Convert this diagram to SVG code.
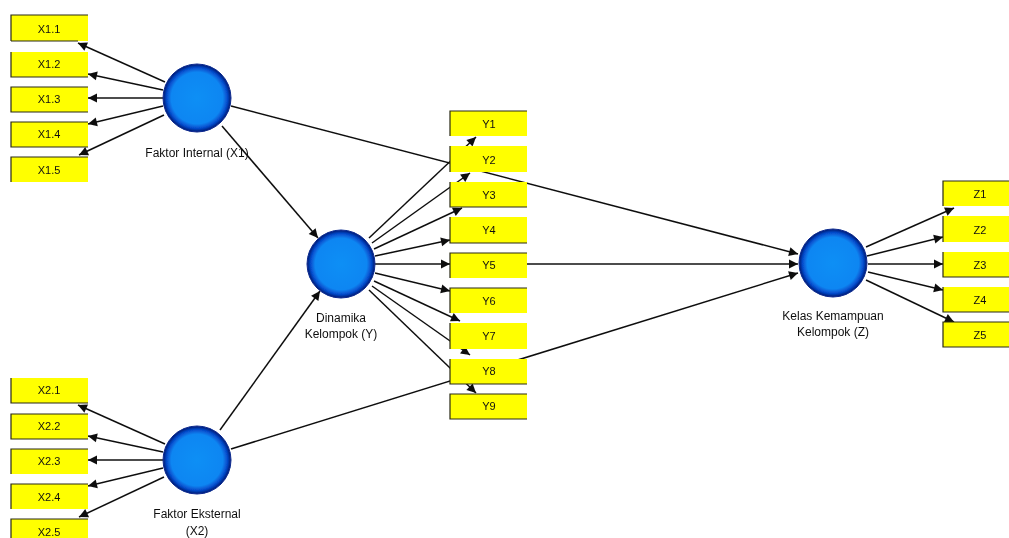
<svg xmlns="http://www.w3.org/2000/svg" width="1009" height="538" viewBox="0 0 1009 538">
<defs>
<radialGradient id="ball" cx="50%" cy="50%" r="50%">
<stop offset="0" stop-color="#0b8ff5"/><stop offset="0.76" stop-color="#0a86f2"/><stop offset="0.9" stop-color="#0648c8"/><stop offset="1" stop-color="#04186e"/>
</radialGradient>
<marker id="arrow" markerUnits="userSpaceOnUse" markerWidth="11" markerHeight="11" refX="10" refY="5.500" orient="auto">
<path d="M1 1L10 5.500L1 10Z" fill="#111"/>
</marker>
<filter id="soft" x="-5%" y="-5%" width="110%" height="110%"><feGaussianBlur stdDeviation="0.5"/></filter>
</defs>
<style>
text{font-family:"Liberation Sans",Arial,sans-serif;font-size:11px;fill:#111;text-anchor:middle}
.l{font-size:12px}
.b{fill:#ffff00;stroke:none}
.e{fill:none;stroke:#2a2a10;stroke-width:1.200}
.c{fill:url(#ball);stroke:#0a2a90;stroke-width:1}
#connectors line{stroke:#111;stroke-width:1.500;marker-end:url(#arrow)}
</style>
<rect width="1009" height="538" fill="#fff"/>
<g filter="url(#soft)">
<g id="connectors">
<line x1="165" y1="82" x2="78" y2="43"/><line x1="163" y1="90" x2="88" y2="74"/><line x1="163" y1="98" x2="88" y2="98"/><line x1="163" y1="106" x2="88" y2="124"/><line x1="164" y1="115" x2="79" y2="155"/>
<line x1="165" y1="444" x2="78" y2="405"/><line x1="163" y1="452" x2="88" y2="436"/><line x1="163" y1="460" x2="88" y2="460"/><line x1="163" y1="468" x2="88" y2="486"/><line x1="164" y1="477" x2="79" y2="517"/>
<line x1="222" y1="126" x2="318" y2="238"/><line x1="220" y1="430" x2="320" y2="291"/>
<line x1="369" y1="238" x2="476" y2="137"/><line x1="372" y1="243" x2="470" y2="173"/><line x1="374" y1="249" x2="462" y2="208"/><line x1="375" y1="256" x2="450" y2="240"/>
<line x1="375" y1="264" x2="450" y2="264"/><line x1="375" y1="273" x2="450" y2="291"/><line x1="374" y1="281" x2="460" y2="321"/><line x1="372" y1="286" x2="470" y2="355"/><line x1="369" y1="290" x2="476" y2="393"/>
<line x1="231" y1="106" x2="798" y2="254"/><line x1="450" y1="264" x2="798" y2="264"/><line x1="231" y1="449" x2="798" y2="273"/>
<line x1="866" y1="247" x2="954" y2="208"/><line x1="867" y1="256" x2="943" y2="237"/><line x1="868" y1="264" x2="943" y2="264"/><line x1="868" y1="272" x2="943" y2="290"/><line x1="866" y1="280" x2="954" y2="322"/>
</g>
<g id="X1.1"><rect class="b" x="11" y="15" width="77" height="26"/><path class="e" d="M11 41V15H88M11 41H78"/><text x="49" y="33">X1.1</text></g>
<g id="X1.2"><rect class="b" x="11" y="52" width="77" height="25"/><path class="e" d="M11 52V77H88"/><text x="49" y="68">X1.2</text></g>
<g id="X1.3"><rect class="b" x="11" y="87" width="77" height="25"/><path class="e" d="M88 87H11V112H88"/><text x="49" y="103">X1.3</text></g>
<g id="X1.4"><rect class="b" x="11" y="122" width="77" height="25"/><path class="e" d="M88 122H11V147H88"/><text x="49" y="138">X1.4</text></g>
<g id="X1.5"><rect class="b" x="11" y="157" width="77" height="25"/><path class="e" d="M88 157H11V182"/><text x="49" y="174">X1.5</text></g>
<g id="X2.1"><rect class="b" x="11" y="378" width="77" height="25"/><path class="e" d="M11 378V403H88"/><text x="49" y="394">X2.1</text></g>
<g id="X2.2"><rect class="b" x="11" y="414" width="77" height="25"/><path class="e" d="M88 414H11V439H88"/><text x="49" y="430">X2.2</text></g>
<g id="X2.3"><rect class="b" x="11" y="449" width="77" height="25"/><path class="e" d="M88 449H11V474"/><text x="49" y="465">X2.3</text></g>
<g id="X2.4"><rect class="b" x="11" y="484" width="77" height="25"/><path class="e" d="M88 484H11V509"/><text x="49" y="501">X2.4</text></g>
<g id="X2.5"><rect class="b" x="11" y="519" width="77" height="19"/><path class="e" d="M88 519H11V538"/><text x="49" y="536">X2.5</text></g>
<g id="Y1"><rect class="b" x="450" y="111" width="77" height="25"/><path class="e" d="M527 111H450V136"/><text x="489" y="128">Y1</text></g>
<g id="Y2"><rect class="b" x="450" y="146" width="77" height="26"/><path class="e" d="M450 146V172"/><text x="489" y="164">Y2</text></g>
<g id="Y3"><rect class="b" x="450" y="182" width="77" height="25"/><path class="e" d="M450 182V207H527"/><text x="489" y="199">Y3</text></g>
<g id="Y4"><rect class="b" x="450" y="217" width="77" height="26"/><path class="e" d="M450 217V243H527"/><text x="489" y="234">Y4</text></g>
<g id="Y5"><rect class="b" x="450" y="253" width="77" height="25"/><path class="e" d="M527 253H450V278"/><text x="489" y="269">Y5</text></g>
<g id="Y6"><rect class="b" x="450" y="288" width="77" height="25"/><path class="e" d="M527 288H450V313"/><text x="489" y="305">Y6</text></g>
<g id="Y7"><rect class="b" x="450" y="323" width="77" height="26"/><path class="e" d="M450 323V349"/><text x="489" y="340">Y7</text></g>
<g id="Y8"><rect class="b" x="450" y="359" width="77" height="25"/><path class="e" d="M450 359V384H527"/><text x="489" y="375">Y8</text></g>
<g id="Y9"><rect class="b" x="450" y="394" width="77" height="25"/><path class="e" d="M527 394H450V419H527"/><text x="489" y="410">Y9</text></g>
<g id="Z1"><rect class="b" x="943" y="181" width="66" height="25"/><path class="e" d="M1009 181H943V206"/><text x="980" y="198">Z1</text></g>
<g id="Z2"><rect class="b" x="943" y="216" width="66" height="26"/><path class="e" d="M943 216V242"/><text x="980" y="234">Z2</text></g>
<g id="Z3"><rect class="b" x="943" y="252" width="66" height="25"/><path class="e" d="M943 252V277H1009"/><text x="980" y="269">Z3</text></g>
<g id="Z4"><rect class="b" x="943" y="287" width="66" height="25"/><path class="e" d="M943 287V312H1009"/><text x="980" y="304">Z4</text></g>
<g id="Z5"><rect class="b" x="943" y="322" width="66" height="25"/><path class="e" d="M1009 322H943V347H1009"/><text x="980" y="339">Z5</text></g>
<g id="X1"><circle class="c" cx="197" cy="98" r="34"/><text class="l" x="197" y="157">Faktor Internal (X1)</text></g>
<g id="Y"><circle class="c" cx="341" cy="264" r="34"/><text class="l" x="341" y="322">Dinamika</text><text class="l" x="341" y="338">Kelompok (Y)</text></g>
<g id="X2"><circle class="c" cx="197" cy="460" r="34"/><text class="l" x="197" y="518">Faktor Eksternal</text><text class="l" x="197" y="535">(X2)</text></g>
<g id="Z"><circle class="c" cx="833" cy="263" r="34"/><text class="l" x="833" y="320">Kelas Kemampuan</text><text class="l" x="833" y="336">Kelompok (Z)</text></g>
</g>
</svg>
